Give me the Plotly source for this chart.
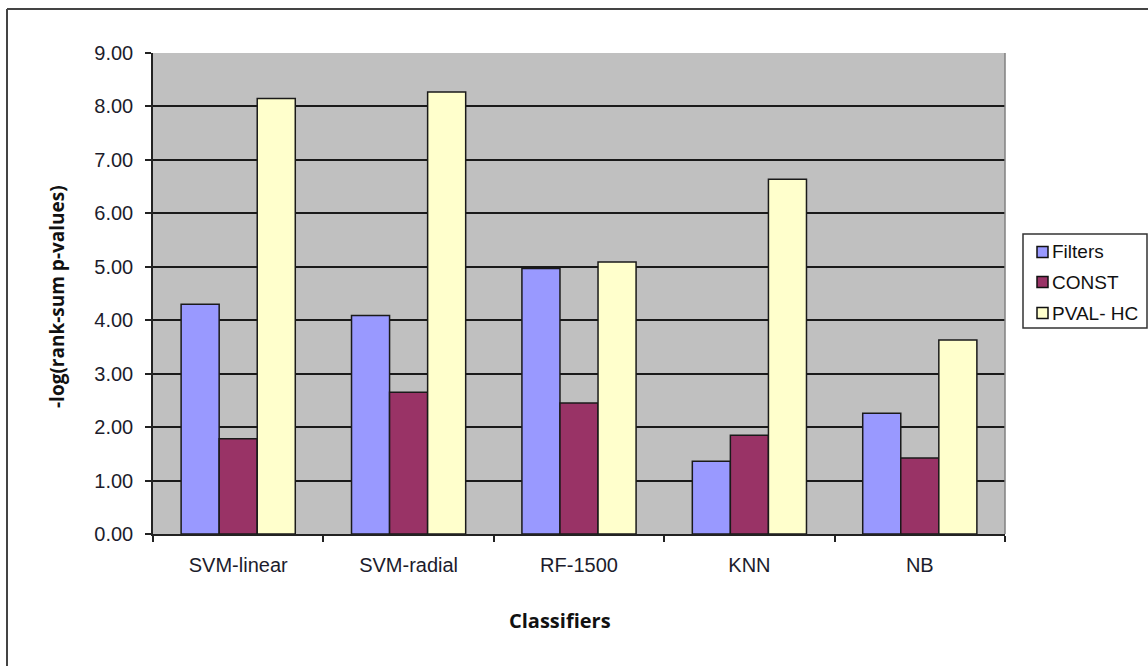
import plotly.graph_objects as go

# Classifier comparison: -log of rank-sum p-values per feature selection method
classifiers = ["SVM-linear", "SVM-radial", "RF-1500", "KNN", "NB"]
filters_vals = [4.30, 4.09, 4.97, 1.36, 2.26]
const_vals = [1.78, 2.65, 2.45, 1.85, 1.42]
pvalhc_vals = [8.15, 8.27, 5.09, 6.64, 3.63]
y_ticks = [0, 1, 2, 3, 4, 5, 6, 7, 8, 9]

series_names = ["Filters", "CONST", "PVAL- HC"]
series_colors = ["#9999FF", "#993366", "#FFFFCC"]
series_vals = [filters_vals, const_vals, pvalhc_vals]

W, H = 1148, 666
L, R, T, B = 153, 1005, 53, 534  # plot area in pixels


def px_x(p):
    return (p - L) / (R - L)


def px_y(p):
    return (B - p) / (B - T)


fig = go.Figure()
for name, vals, color in zip(series_names, series_vals, series_colors):
    fig.add_trace(go.Bar(
        name=name, x=classifiers, y=vals,
        marker=dict(color=color, line=dict(color="#1a1a1a", width=1.5)),
    ))

shapes = [
    # outer chart frame (top and left edges)
    dict(type="line", xref="paper", yref="paper",
         x0=px_x(7), x1=px_x(1148), y0=px_y(9), y1=px_y(9),
         line=dict(color="#444444", width=2)),
    dict(type="line", xref="paper", yref="paper",
         x0=px_x(7), x1=px_x(7), y0=px_y(9), y1=px_y(666),
         line=dict(color="#444444", width=2)),
    # plot area right border
    dict(type="line", xref="paper", yref="paper",
         x0=1, x1=1, y0=0, y1=1,
         line=dict(color="#808080", width=1.5)),
    # legend box
    dict(type="rect", xref="paper", yref="paper",
         x0=px_x(1023), x1=px_x(1147), y0=px_y(234), y1=px_y(328),
         fillcolor="white", line=dict(color="#333333", width=1.5)),
]

annotations = [
    dict(text="<b>Classifiers</b>", xref="paper", yref="paper",
         x=px_x(560), y=px_y(620), xanchor="center", yanchor="middle",
         showarrow=False,
         font=dict(family="Open Sans", size=20, color="#111111")),
    dict(text="<b>-log(rank-sum p-values)</b>", xref="paper", yref="paper",
         x=px_x(57), y=px_y(297), xanchor="center", yanchor="middle",
         textangle=-90, showarrow=False,
         font=dict(family="Open Sans", size=19, color="#111111")),
]

# legend entries: small swatch plus label
legend_rows = [252, 282, 313]
for name, color, cy in zip(series_names, series_colors, legend_rows):
    shapes.append(dict(
        type="rect", xref="paper", yref="paper",
        x0=px_x(1037), x1=px_x(1048), y0=px_y(cy - 5.5), y1=px_y(cy + 5.5),
        fillcolor=color, line=dict(color="#111111", width=1.5)))
    annotations.append(dict(
        text=name, xref="paper", yref="paper",
        x=px_x(1050), y=px_y(cy), xanchor="left", yanchor="middle",
        showarrow=False,
        font=dict(family="Liberation Sans, Arial", size=19, color="#111111")))

fig.update_layout(
    width=W, height=H,
    margin=dict(l=L, r=W - R, t=T, b=H - B, pad=0),
    paper_bgcolor="white",
    plot_bgcolor="#C0C0C0",
    barmode="group",
    bargap=0.33,
    bargroupgap=0,
    font=dict(family="Liberation Sans, Arial", size=20, color="#1c1c2c"),
    showlegend=False,
    xaxis=dict(
        showline=True, linecolor="#222222", linewidth=1.5,
        ticks="outside", ticklen=6, tickcolor="#222222", tickwidth=1.5,
        tickson="boundaries", showgrid=False,
        tickfont=dict(size=20), ticklabelstandoff=12,
    ),
    yaxis=dict(
        range=[0, 9], tickvals=y_ticks,
        ticktext=[f"{v:.2f}" for v in y_ticks],
        showline=True, linecolor="#222222", linewidth=1.5,
        ticks="outside", ticklen=6, tickcolor="#222222", tickwidth=1.5,
        showgrid=True, gridcolor="#1a1a1a", gridwidth=1.5,
        zeroline=False, tickfont=dict(size=20), ticklabelstandoff=8,
    ),
    shapes=shapes,
    annotations=annotations,
)

fig.write_html("out.html")
